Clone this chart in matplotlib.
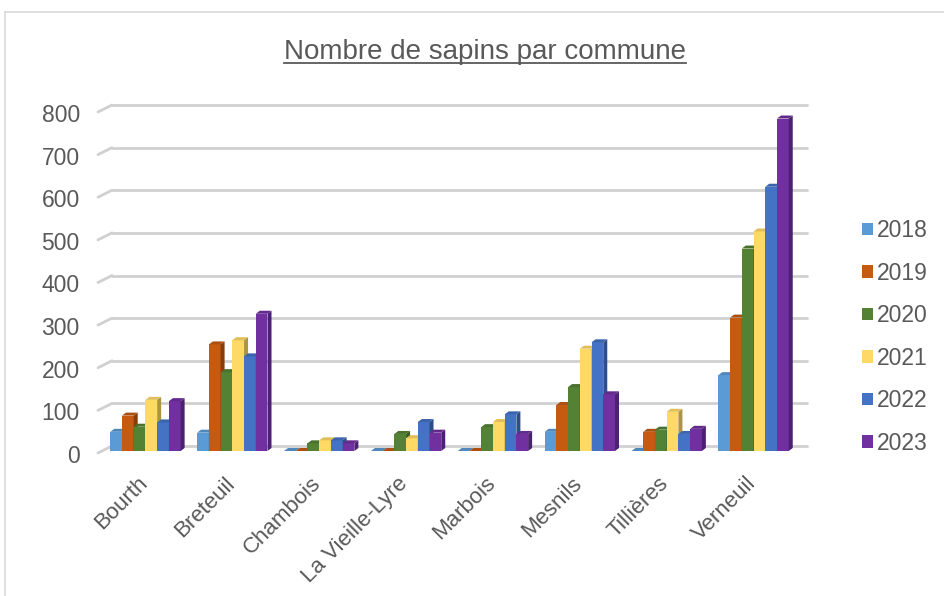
import matplotlib
matplotlib.use("Agg")
import matplotlib.pyplot as plt
import matplotlib.transforms as mtrans
from matplotlib.patches import Polygon, Patch
from matplotlib.lines import Line2D
import numpy as np
import matplotlib.colors as mcolors

plt.rcParams['font.family'] = ['Liberation Sans', 'DejaVu Sans']

communes = ["Bourth", "Breteuil", "Chambois", "La Vieille-Lyre", "Marbois",
            "Mesnils", "Tillières", "Verneuil"]
years = ["2018", "2019", "2020", "2021", "2022", "2023"]
v2018 = [45, 43, 0, 0, 0, 45, 0, 178]
v2019 = [83, 250, 0, 0, 0, 108, 45, 313]
v2020 = [57, 185, 18, 40, 56, 150, 50, 475]
v2021 = [120, 260, 25, 30, 68, 240, 92, 515]
v2022 = [67, 222, 25, 68, 86, 255, 40, 620]
v2023 = [117, 322, 18, 43, 40, 133, 52, 780]
series = [v2018, v2019, v2020, v2021, v2022, v2023]
colors = ["#5B9BD5", "#C55A11", "#548235", "#FFD966", "#4472C4", "#7030A0"]
yticks = [0, 100, 200, 300, 400, 500, 600, 700, 800]

W, H, DPI = 945, 596, 100
fig = plt.figure(figsize=(W / DPI, H / DPI), dpi=DPI)
txt = "#595959"

# axes in the bar (front) plane
axl, axr, axb, axt = 102, 797, 451, 110
ax = fig.add_axes([axl / W, 1 - axb / H, (axr - axl) / W, (axb - axt) / H])
ax.set_xlim(-0.5, 7.5)
ax.set_ylim(0, 800)
for s in ax.spines.values():
    s.set_visible(False)
ax.patch.set_alpha(0)

px_x = (axr - axl) / 8.0       # pixels per x unit
px_y = (axb - axt) / 800.0     # pixels per y unit

def off(dx, dy):
    return mtrans.ScaledTranslation(dx / DPI, dy / DPI, fig.dpi_scale_trans)

# gridlines (back wall) + slanted floor segments
gcol = "#D0D0D0"
for v in yticks:
    ax.plot([-0.5, 7.5], [v, v], color=gcol, lw=2.0, solid_capstyle='round',
            transform=ax.transData + off(10, 5), clip_on=False, zorder=1)
    x0 = -0.5 - 4 / px_x
    x1 = -0.5 + 10 / px_x
    ax.plot([x0, x1], [v - 2 / px_y, v + 5 / px_y], color=gcol, lw=2.0,
            solid_capstyle='round', clip_on=False, zorder=1)

# 3D-ish bars
bw = 0.135
dxb = 4 / px_x
dyb = 3 / px_y
z = 3
n = len(series)
for i in range(len(communes)):
    for j, vals in enumerate(series):
        h = vals[i]
        xl = i - n * bw / 2 + j * bw
        xr = xl + bw
        base = np.array(mcolors.to_rgb(colors[j]))
        side = base * 0.68
        top = base * 0.88
        ax.bar(xl, h, width=bw, align='edge', color=colors[j], zorder=z,
               linewidth=0)
        ax.add_patch(Polygon([(xr, 0), (xr, h), (xr + dxb, h + dyb), (xr + dxb, dyb)],
                             closed=True, facecolor=side, edgecolor='none', zorder=z))
        ax.add_patch(Polygon([(xl, h), (xr, h), (xr + dxb, h + dyb), (xl + dxb, h + dyb)],
                             closed=True, facecolor=top, edgecolor='none', zorder=z))
        z += 1

# y tick labels
ax.set_yticks(yticks)
ax.set_yticklabels([str(v) for v in yticks], fontsize=16.5, color=txt)
ax.tick_params(axis='y', length=0, pad=16)
for lab in ax.get_yticklabels():
    lab.set_transform(lab.get_transform() + off(0, -3))

# x tick labels
ax.set_xticks(range(len(communes)))
ax.set_xticklabels(communes, fontsize=16, color=txt, rotation=45,
                   ha='right', va='center', rotation_mode='anchor')
ax.tick_params(axis='x', length=0, pad=21)
for lab in ax.get_xticklabels():
    lab.set_transform(lab.get_transform() + off(-1, 0))

# legend
handles = [Patch(facecolor=c, edgecolor='none') for c in colors]
leg = fig.legend(handles, years, loc='center left',
                 bbox_to_anchor=(851 / W, 1 - 337 / H), frameon=False,
                 fontsize=16.5, handlelength=0.45, handleheight=0.45,
                 handletextpad=0.2, labelspacing=0.85, borderpad=0)
for t in leg.get_texts():
    t.set_color(txt)

# title with underline
title = fig.text(485 / W, 1 - 59 / H, "Nombre de sapins par commune",
                 ha='center', va='baseline', fontsize=20, color=txt)
fig.canvas.draw()
bb = title.get_window_extent()
uy = 1 - 63 / H
fig.add_artist(Line2D([bb.x0 / W, bb.x1 / W], [uy, uy], color=txt, lw=1.3))

# outer frame
fc = "#D9D9D9"
fig.add_artist(Line2D([5 / W, 5 / W], [0, 1 - 12 / H], color=fc, lw=1.2))
fig.add_artist(Line2D([5 / W, 1], [1 - 12 / H, 1 - 12 / H], color=fc, lw=1.2))

fig.savefig("out.png", dpi=DPI)
